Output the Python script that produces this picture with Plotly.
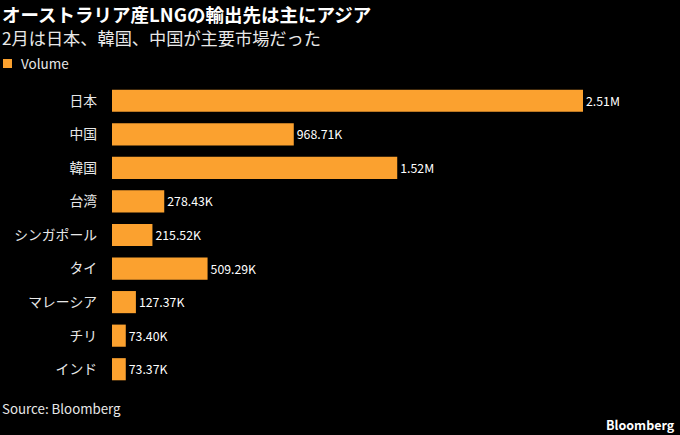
import plotly.graph_objects as go

countries = ["日本", "中国", "韓国", "台湾", "シンガポール", "タイ", "マレーシア", "チリ", "インド"]
volumes = [2.51e6, 968.71e3, 1.52e6, 278.43e3, 215.52e3, 509.29e3, 127.37e3, 73.40e3, 73.37e3]
value_labels = ["2.51M", "968.71K", "1.52M", "278.43K", "215.52K", "509.29K", "127.37K", "73.40K", "73.37K"]

FONT = "Noto Sans CJK JP, Noto Sans, sans-serif"
ORANGE = "#FBA12F"

fig = go.Figure(go.Bar(
    x=volumes, y=countries, orientation="h",
    marker=dict(color=ORANGE, line=dict(width=0)),
    text=value_labels, textposition="outside", cliponaxis=False,
    textfont=dict(color="#FFFFFF", size=12.3, family=FONT),
    name="Volume", showlegend=False,
))

W, H = 680, 435
L, R, T, B = 112, 40, 84, 49
plot_w = W - L - R
plot_h = H - T - B
xmax = 2.51e6 * plot_w / 471


def px_x(x):
    return (x - L) / plot_w


def px_y(y):
    return 1 - (y - T) / plot_h


fig.update_layout(
    width=W, height=H,
    margin=dict(l=L, r=R, t=T, b=B),
    paper_bgcolor="#000000", plot_bgcolor="#000000",
    font=dict(family=FONT, color="#FFFFFF"),
    bargap=0.34,
    xaxis=dict(range=[0, xmax], visible=False, showgrid=False, zeroline=False),
    yaxis=dict(autorange="reversed", showgrid=False, zeroline=False, showline=False,
               ticks="", ticklabelstandoff=14,
               tickfont=dict(size=13.8, color="#E8E8E8", family=FONT)),
    annotations=[
        dict(text="<b>オーストラリア産LNGの輸出先は主にアジア</b>", xref="paper", yref="paper",
             x=px_x(0), y=px_y(14), xanchor="left", yanchor="middle",
             showarrow=False, font=dict(size=18.5, color="#FFFFFF", family=FONT)),
        dict(text="2月は日本、韓国、中国が主要市場だった", xref="paper", yref="paper",
             x=px_x(0), y=px_y(38), xanchor="left", yanchor="middle",
             showarrow=False, font=dict(size=17.2, color="#E8E8E8", family=FONT)),
        dict(text="Volume", xref="paper", yref="paper",
             x=px_x(19), y=px_y(63), xanchor="left", yanchor="middle",
             showarrow=False, font=dict(size=13.5, color="#E8E8E8", family=FONT)),
        dict(text="Source: Bloomberg", xref="paper", yref="paper",
             x=px_x(0), y=px_y(408), xanchor="left", yanchor="middle",
             showarrow=False, font=dict(size=13.3, color="#E8E8E8", family=FONT)),
        dict(text="<b>Bloomberg</b>", xref="paper", yref="paper",
             x=px_x(677), y=px_y(424), xanchor="right", yanchor="middle",
             showarrow=False, font=dict(size=12.5, color="#FFFFFF", family=FONT)),
    ],
    shapes=[
        dict(type="rect", xref="paper", yref="paper",
             x0=px_x(3), x1=px_x(12), y0=px_y(68), y1=px_y(59),
             fillcolor=ORANGE, line=dict(width=0)),
    ],
)

fig.write_html("out.html", config={"displayModeBar": False},
               post_script="document.body.style.margin='0';document.body.style.background='#000';")
